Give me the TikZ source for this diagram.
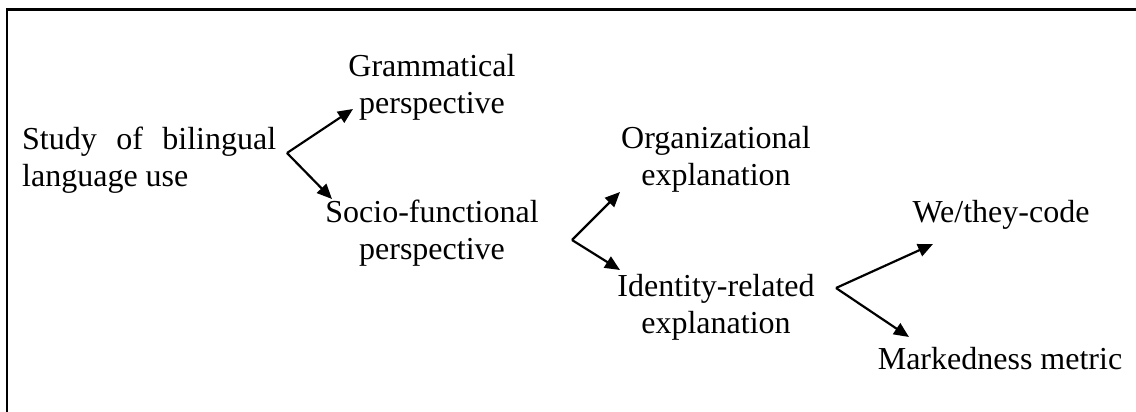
\documentclass[tikz,border=0pt]{standalone}
\usepackage{fontspec}
\setmainfont{Liberation Serif}
\usetikzlibrary{arrows.meta}
\tikzset{
  lbl/.style={inner sep=0pt, font=\fontsize{32}{37}\selectfont, anchor=base},
  lblw/.style={lbl, anchor=base west},
  conn/.style={line width=2.2pt, -{Triangle[length=15pt,width=13pt]}},
  frame/.style={line width=2.2pt}
}
\newcommand{\twolines}[2]{\begin{tabular}[t]{@{}c@{}}#1\\#2\end{tabular}}
\begin{document}
\begin{tikzpicture}[x=1pt,y=-1pt]
\useasboundingbox (0,0) rectangle (1136,412);
\clip (0,0) rectangle (1136,412);
\draw[frame] (7,9.5) rectangle (1150,430);

\node[lblw] (study) at (22,149) {\begin{tabular}[t]{@{}l@{}}\makebox[254pt][s]{Study\hfill of\hfill bilingual}\\language use\end{tabular}};
\node[lbl] (gram) at (432,77) {\twolines{Grammatical}{perspective}};
\node[lbl] (socio) at (432,222) {\twolines{Socio-functional}{perspective}};
\node[lbl] (org) at (716,148) {\twolines{Organizational}{explanation}};
\node[lbl] (ident) at (716,296) {\twolines{Identity-related}{explanation}};
\node[lbl] (we) at (1001,222) {We/they-code};
\node[lbl] (mark) at (1000,369) {Markedness metric};

\coordinate (j1) at (287,153);
\coordinate (t1a) at (353,109);
\coordinate (t1b) at (332,199);
\coordinate (j2) at (572,240);
\coordinate (t2a) at (620,192);
\coordinate (t2b) at (620,270);
\coordinate (j3) at (836,288);
\coordinate (t3a) at (933,244);
\coordinate (t3b) at (909,337);

\draw[conn] (j1) -- (t1a);
\draw[conn] (j1) -- (t1b);
\draw[conn] (j2) -- (t2a);
\draw[conn] (j2) -- (t2b);
\draw[conn] (j3) -- (t3a);
\draw[conn] (j3) -- (t3b);
\end{tikzpicture}
\end{document}
